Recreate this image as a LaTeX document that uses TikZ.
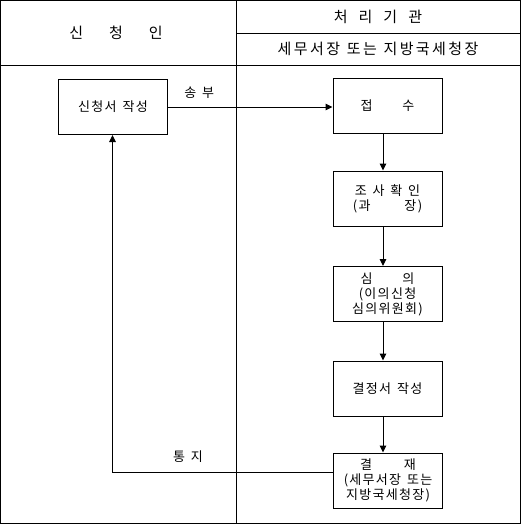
\documentclass[tikz,border=0pt]{standalone}
\usepackage{fontspec}
\setmainfont{Noto Sans CJK KR}
\newfontfamily\krh[LetterSpace=16]{Noto Sans CJK KR}
\newfontfamily\krb[LetterSpace=10]{Noto Sans CJK KR}
\newcommand\kgap{\hspace{0.45em}}
\usetikzlibrary{arrows.meta}
\begin{document}
\begin{tikzpicture}[x=1pt,y=-1pt,
  box/.style={draw,line width=1pt,minimum width=109pt,minimum height=55pt,inner sep=0pt,align=center,font=\krb\fontsize{13}{15}\selectfont},
  lab/.style={inner sep=0pt,font=\krb\fontsize{13}{15}\selectfont},
  hdr/.style={inner sep=0pt,font=\krh\fontsize{15}{16}\selectfont},
  arr/.style={line width=1pt,-{Triangle[length=7pt,width=6.5pt]}},
  rule/.style={line width=1pt}]
\useasboundingbox (0,0) rectangle (522,525);
% table frame
\draw[rule] (0.5,0.5) rectangle (520.5,523.5);
\draw[rule] (0.5,65.5) -- (520.5,65.5);
\draw[rule] (236.5,0.5) -- (236.5,523.5);
\draw[rule] (236.5,33.5) -- (520.5,33.5);
% headers
\node[hdr] (h1) at (116,33) {신\hspace{26pt}청\hspace{26pt}인};
\node[hdr] (h2) at (378,17) {처\hspace{11pt}리\hspace{11pt}기\hspace{11pt}관};
\node[hdr] (h3) at (378,49) {세무서장\kgap 또는\kgap 지방국세청장};
% boxes
\node[box] (A) at (113,107) {신청서\kgap 작성};
\node[box] (B) at (387.5,105.5) {접\hspace{30pt}수};
\node[box] (C) at (387.5,198.5) {조\kgap 사\kgap 확\kgap 인\\(과\hspace{34pt}장)};
\node[box] (D) at (387.5,294) {심\hspace{30pt}의\\(이의신청\\심의위원회)};
\node[box] (E) at (387.5,388.5) {결정서\kgap 작성};
\node[box] (F) at (388,480.5) {결\hspace{32pt}재\\(세무서장\kgap 또는\\지방국세청장)};
% helper coordinates
\coordinate (ax) at (383,0);
\coordinate (ret) at (112.5,472);
% connectors
\draw[arr] (A.east) -- (A.east -| B.west) node[lab,pos=0.19,above=8pt] (sb) {송\kgap 부};
\draw[arr] (B.south -| ax) -- (C.north -| ax);
\draw[arr] (C.south -| ax) -- (D.north -| ax);
\draw[arr] (D.south -| ax) -- (E.north -| ax);
\draw[arr] (E.south -| ax) -- (F.north -| ax);
\draw[arr] (F.west |- ret) -- (ret) -- (A.south -| ret);
\node[lab] (tz) at (188,457) {통\kgap 지};
\end{tikzpicture}
\end{document}
